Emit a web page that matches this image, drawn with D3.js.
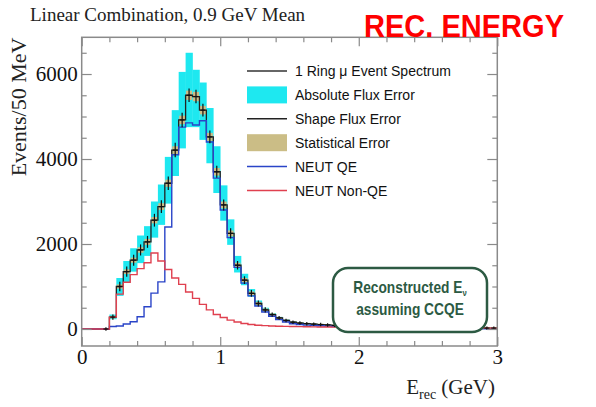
<!DOCTYPE html>
<html>
<head>
<meta charset="utf-8">
<script src="https://cdn.jsdelivr.net/npm/d3@7"></script>
<style>
  body { margin: 0; background: #fff; }
  svg { display: block; }
</style>
</head>
<body>
<div id="chart"></div>
<script>
// bin lower edges, 50 MeV bins from 0 to 3 GeV
var binLo = [0,0.05,0.1,0.15,0.2,0.25,0.3,0.35,0.4,0.45,0.5,0.55,0.6,0.65,0.7,0.75,0.8,0.85,0.9,0.95,
  1,1.05,1.1,1.15,1.2,1.25,1.3,1.35,1.4,1.45,1.5,1.55,1.6,1.65,1.7,1.75,1.8,1.85,1.9,1.95,
  2,2.05,2.1,2.15,2.2,2.25,2.3,2.35,2.4,2.45,2.5,2.55,2.6,2.65,2.7,2.75,2.8,2.85,2.9,2.95];

// 1 ring mu event spectrum
var spectrum = [0,0,0,0,280,1000,1350,1620,1860,2050,2560,2880,3430,4210,4920,5500,5470,5150,4520,3700,
  2920,2250,1500,1150,840,600,450,340,260,200,160,140,125,115,105,95,85,75,65,55,
  50,45,42,40,38,36,34,32,30,28,27,26,25,24,23,22,21,20,20,20];

// NEUT QE
var neutQE = [0,0,0,0,60,70,118,170,290,525,845,1110,2400,4100,4750,4850,4800,4900,4400,3550,
  2800,2150,1450,1080,780,540,400,300,220,165,125,105,92,83,75,68,60,52,45,40,
  35,30,27,24,22,20,18,16,14,12,10,9,8,7,6,5,4,3,2,2];

// NEUT non-QE
var neutNonQE = [0,0,0,0,280,820,1100,1280,1420,1560,1790,1600,1400,1200,1050,870,720,580,450,340,
  270,210,165,130,105,90,80,72,66,62,58,55,52,50,48,46,44,42,40,38,
  36,34,32,30,29,28,27,26,25,24,23,22,21,20,20,20,20,20,20,20];

// absolute flux error band
var fluxLo = [0,0,0,0,230,780,1100,1350,1550,1720,2150,2450,2950,3600,4250,4750,4750,4450,3900,3200,
  2550,1980,1330,1030,760,545,410,310,240,185,148,130,116,107,98,89,80,70,61,52,
  47,42,40,38,36,34,32,30,28,27,26,25,24,23,22,21,20,19,19,19];
var fluxHi = [0,0,0,0,340,1200,1600,1900,2200,2420,3000,3400,4050,5150,6050,6500,6100,5800,5200,4300,
  3380,2580,1720,1300,940,670,500,375,285,220,175,152,135,124,113,102,91,80,69,58,
  53,48,45,42,40,38,36,34,32,30,29,28,27,26,25,24,23,22,22,22];

// shape flux error (half length of black bars)
var shapeErr = [0,0,0,40,60,110,120,130,130,140,150,150,160,170,170,160,160,150,150,140,
  130,120,100,90,80,70,60,50,45,40,40,40,40,40,40,40,40,40,40,40,
  40,40,40,40,40,40,40,40,40,40,40,40,40,40,40,40,40,40,40,40];

// statistical error (half height of tan boxes)
var statErr = [0,0,0,0,30,50,55,60,65,70,75,80,85,90,100,110,110,100,95,90,
  80,70,60,50,45,40,35,30,25,20,20,20,20,20,20,20,20,20,20,20,
  20,20,20,20,20,20,20,20,20,20,20,20,20,20,20,20,20,20,20,20];

var binWidth = 0.05;

var legendItems = [
  {label: "1 Ring \u03bc Event Spectrum", kind: "line", color: "#333"},
  {label: "Absolute Flux Error", kind: "box", color: "#1ee8f0"},
  {label: "Shape Flux Error", kind: "line", color: "#222"},
  {label: "Statistical Error", kind: "box", color: "#cbbd86"},
  {label: "NEUT QE", kind: "line", color: "#2a44c8"},
  {label: "NEUT Non-QE", kind: "line", color: "#e0404f"}
];

var W = 596, H = 407;
var frame = {left: 81.7, right: 497.3, top: 37.3, bottom: 346};

var svg = d3.select("#chart").append("svg")
  .attr("width", W).attr("height", H);

var x = d3.scaleLinear().domain([0, 3]).range([frame.left, frame.right]);
var y = d3.scaleLinear().domain([-400, 6864]).range([frame.bottom, frame.top]);

var bins = binLo.map(function(lo, i) {
  return {lo: lo, hi: lo + binWidth, mid: lo + binWidth / 2,
    v: spectrum[i], qe: neutQE[i], nqe: neutNonQE[i],
    flo: fluxLo[i], fhi: fluxHi[i], se: shapeErr[i], st: statErr[i]};
});

var plot = svg.append("g");

// cyan absolute flux error
plot.selectAll("rect.flux")
  .data(bins.filter(function(d) { return d.fhi > d.flo; }))
  .enter().append("rect")
  .attr("class", "flux")
  .attr("x", function(d) { return x(d.lo); })
  .attr("width", function(d) { return x(d.hi) - x(d.lo) + 0.3; })
  .attr("y", function(d) { return y(d.fhi); })
  .attr("height", function(d) { return y(d.flo) - y(d.fhi); })
  .attr("fill", "#1ee8f0");

// tan statistical error
plot.selectAll("rect.stat")
  .data(bins.filter(function(d) { return d.st > 0; }))
  .enter().append("rect")
  .attr("class", "stat")
  .attr("x", function(d) { return x(d.mid) - 3; })
  .attr("width", 6)
  .attr("y", function(d) { return y(d.v + d.st); })
  .attr("height", function(d) { return y(d.v - d.st) - y(d.v + d.st); })
  .attr("fill", "#cbbd86");

function stepPath(key) {
  var pts = bins.map(function(d) { return [x(d.lo), y(d[key])]; });
  var last = bins[bins.length - 1];
  pts.push([x(last.hi), y(last[key])]);
  return d3.line().curve(d3.curveStepAfter)(pts);
}

plot.append("path").attr("d", stepPath("v"))
  .attr("fill", "none").attr("stroke", "#222").attr("stroke-width", 1.3);
plot.append("path").attr("d", stepPath("qe"))
  .attr("fill", "none").attr("stroke", "#2a44c8").attr("stroke-width", 1.4);
plot.append("path").attr("d", stepPath("nqe"))
  .attr("fill", "none").attr("stroke", "#e0404f").attr("stroke-width", 1.4);

// black shape flux error bars
var bars = plot.selectAll("g.err")
  .data(bins.filter(function(d) { return d.se > 0; }))
  .enter().append("g").attr("class", "err");
bars.append("line")
  .attr("x1", function(d) { return x(d.mid); })
  .attr("x2", function(d) { return x(d.mid); })
  .attr("y1", function(d) { return y(d.v - d.se); })
  .attr("y2", function(d) { return y(d.v + d.se); })
  .attr("stroke", "#111").attr("stroke-width", 1.2);
bars.append("line")
  .attr("x1", function(d) { return x(d.mid) - 2.5; })
  .attr("x2", function(d) { return x(d.mid) + 2.5; })
  .attr("y1", function(d) { return y(d.v); })
  .attr("y2", function(d) { return y(d.v); })
  .attr("stroke", "#111").attr("stroke-width", 1.2);

// frame and ticks
var axisColor = "#8a8a8a";
var xMinor = [0.2,0.4,0.6,0.8,1.2,1.4,1.6,1.8,2.2,2.4,2.6,2.8];
var xMajor = [0, 1, 2, 3];
var yMinor = [-500,500,1000,1500,2500,3000,3500,4500,5000,5500,6500];
var yMajor = [0, 2000, 4000, 6000];

function styleAxis(g) {
  g.select(".domain").remove();
  g.selectAll(".tick line").attr("stroke", axisColor).attr("stroke-width", 1.2);
  g.selectAll(".tick text").attr("fill", "#111")
    .style("font-family", "'Liberation Serif', 'Times New Roman', serif")
    .style("font-size", "21px");
}

svg.append("g").attr("transform", "translate(0," + frame.bottom + ")")
  .call(d3.axisBottom(x).tickValues(xMinor).tickSize(-5).tickFormat(""))
  .call(styleAxis);
svg.append("g").attr("transform", "translate(0," + frame.bottom + ")")
  .call(d3.axisBottom(x).tickValues(xMajor).tickSize(-9).tickPadding(3).tickFormat(d3.format("d")))
  .call(styleAxis);
svg.append("g").attr("transform", "translate(0," + frame.top + ")")
  .call(d3.axisTop(x).tickValues(xMinor).tickSize(-5).tickFormat(""))
  .call(styleAxis);
svg.append("g").attr("transform", "translate(0," + frame.top + ")")
  .call(d3.axisTop(x).tickValues(xMajor).tickSize(-9).tickFormat(""))
  .call(styleAxis);

var yVis = function(v) { return y(v) >= frame.top && y(v) <= frame.bottom; };
svg.append("g").attr("transform", "translate(" + frame.left + ",0)")
  .call(d3.axisLeft(y).tickValues(yMinor.filter(yVis)).tickSize(-5).tickFormat(""))
  .call(styleAxis);
svg.append("g").attr("transform", "translate(" + frame.left + ",0)")
  .call(d3.axisLeft(y).tickValues(yMajor).tickSize(-10).tickPadding(4).tickFormat(d3.format("d")))
  .call(styleAxis);
svg.append("g").attr("transform", "translate(" + frame.right + ",0)")
  .call(d3.axisRight(y).tickValues(yMinor.filter(yVis)).tickSize(-5).tickFormat(""))
  .call(styleAxis);
svg.append("g").attr("transform", "translate(" + frame.right + ",0)")
  .call(d3.axisRight(y).tickValues(yMajor).tickSize(-10).tickFormat(""))
  .call(styleAxis);

svg.append("rect")
  .attr("x", frame.left).attr("y", frame.top)
  .attr("width", frame.right - frame.left).attr("height", frame.bottom - frame.top)
  .attr("fill", "none").attr("stroke", axisColor).attr("stroke-width", 1.5);

// legend
var leg = svg.append("g").attr("transform", "translate(247,71)");
var rows = leg.selectAll("g").data(legendItems).enter().append("g")
  .attr("transform", function(d, i) { return "translate(0," + (i * 23.9) + ")"; });
rows.filter(function(d) { return d.kind === "line"; }).append("line")
  .attr("x1", 0).attr("x2", 40).attr("y1", 0).attr("y2", 0)
  .attr("stroke", function(d) { return d.color; }).attr("stroke-width", 1.5);
rows.filter(function(d) { return d.kind === "box"; }).append("rect")
  .attr("x", 0).attr("y", -8.5).attr("width", 40).attr("height", 17)
  .attr("fill", function(d) { return d.color; });
rows.append("text")
  .attr("x", 48).attr("y", 5)
  .style("font-family", "'Liberation Sans', Arial, sans-serif")
  .style("font-size", "14px").attr("fill", "#111")
  .text(function(d) { return d.label; });

// annotation box
var note = svg.append("g");
note.append("rect")
  .attr("x", 333).attr("y", 268).attr("width", 154).attr("height", 64)
  .attr("rx", 15).attr("ry", 15)
  .attr("fill", "#fff").attr("stroke", "#2c5a43").attr("stroke-width", 2.5);
var noteText = note.append("g")
  .attr("transform", "translate(410,0) scale(0.86,1) translate(-410,0)")
  .append("text")
  .attr("text-anchor", "middle")
  .style("font-family", "'Liberation Sans', sans-serif")
  .style("font-weight", "bold").style("font-size", "16px")
  .attr("fill", "#2c5a43");
var l1 = noteText.append("tspan").attr("x", 410).attr("y", 293).text("Reconstructed E");
l1.append("tspan").attr("font-size", "9px").attr("dy", 3).text("\u03bd");
noteText.append("tspan").attr("x", 410).attr("y", 315).text("assuming CCQE");

// titles
svg.append("text")
  .attr("x", 30).attr("y", 21)
  .style("font-family", "'Liberation Serif', 'Times New Roman', serif")
  .style("font-size", "19px").attr("fill", "#222")
  .text("Linear Combination, 0.9 GeV Mean");

svg.append("text")
  .attr("x", 364).attr("y", 37)
  .attr("textLength", 200).attr("lengthAdjust", "spacingAndGlyphs")
  .style("font-family", "'Liberation Sans', Arial, sans-serif")
  .style("font-weight", "bold").style("font-size", "32px")
  .attr("fill", "#ff0000")
  .text("REC. ENERGY");

svg.append("text")
  .attr("transform", "translate(26,107) rotate(-90)")
  .attr("text-anchor", "middle")
  .style("font-family", "'Liberation Serif', 'Times New Roman', serif")
  .style("font-size", "22px").attr("fill", "#222")
  .text("Events/50 MeV");

var xl = svg.append("text")
  .attr("x", 495).attr("y", 394)
  .attr("text-anchor", "end")
  .style("font-family", "'Liberation Serif', 'Times New Roman', serif")
  .style("font-size", "21px").attr("fill", "#222");
xl.append("tspan").text("E");
xl.append("tspan").attr("font-size", "14px").attr("dy", 5).text("rec");
xl.append("tspan").attr("dy", -5).text(" (GeV)");
</script>
</body>
</html>
